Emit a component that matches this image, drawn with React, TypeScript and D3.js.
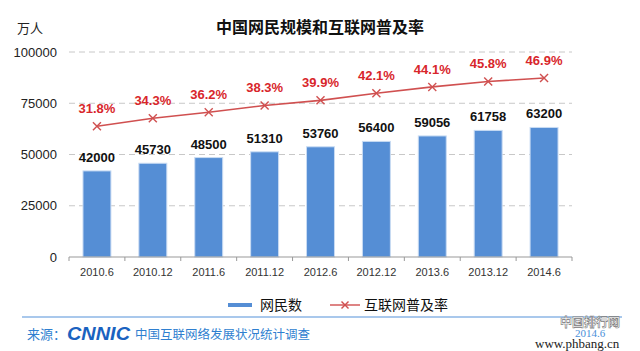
import { useMemo } from "react";
import * as d3 from "d3";

const periods = ["2010.6", "2010.12", "2011.6", "2011.12", "2012.6", "2012.12", "2013.6", "2013.12", "2014.6"];
const netizens = [42000, 45730, 48500, 51310, 53760, 56400, 59056, 61758, 63200];
const penetration = [31.8, 34.3, 36.2, 38.3, 39.9, 42.1, 44.1, 45.8, 46.9];
const yTicks = [0, 25000, 50000, 75000, 100000];

const WIDTH = 640;
const HEIGHT = 351;
const CJK = "'Noto Sans CJK SC', 'Liberation Sans', sans-serif";
const LATIN = "'Liberation Sans', Arial, sans-serif";
const BAR_COLOR = "#558ed5";
const LINE_COLOR = "#d05050";
const LABEL_RED = "#d8262b";
const FOOT_BLUE = "#2f7fd0";

export default function App() {
  const x = useMemo(
    () => d3.scaleBand<string>().domain(periods).range([69, 572]).paddingInner(0.5).paddingOuter(0.25),
    []
  );
  // band used for the axis ticks (category boundaries)
  const xb = useMemo(() => d3.scaleBand<string>().domain(periods).range([69, 572]), []);
  const y = useMemo(() => d3.scaleLinear().domain([0, 100000]).range([257, 52]), []);
  // hidden secondary axis for the rate line
  const y2 = useMemo(() => d3.scaleLinear().domain([-9, 55]).range([257, 52]), []);

  const cx = (p: string) => (xb(p) ?? 0) + xb.bandwidth() / 2;

  const linePath = d3
    .line<number>()
    .x((_, i) => cx(periods[i]))
    .y((d) => y2(d))(penetration);

  const cross = (px: number, py: number, s: number, key: string | number) => (
    <g key={key} stroke={LINE_COLOR} strokeWidth={1.4}>
      <line x1={px - s} y1={py - s} x2={px + s} y2={py + s} />
      <line x1={px - s} y1={py + s} x2={px + s} y2={py - s} />
    </g>
  );

  return (
    <svg
      width={WIDTH}
      height={HEIGHT}
      style={{ position: "absolute", left: 0, top: 0, background: "#fff" }}
    >
      {/* title */}
      <text x={320} y={33} textAnchor="middle" fontFamily={CJK} fontWeight="bold" fontSize={16} fill="#111">
        中国网民规模和互联网普及率
      </text>
      <text x={17} y={33} fontFamily={CJK} fontSize={13} fill="#222">
        万人
      </text>

      {/* grid + y labels */}
      {yTicks.map((t) => (
        <g key={t}>
          {t > 0 && (
            <line x1={69} x2={572} y1={y(t)} y2={y(t)} stroke="#c8c8c8" strokeDasharray="6,4" />
          )}
          <text x={57} y={y(t)} dy="0.35em" textAnchor="end" fontFamily={LATIN} fontSize={13} fill="#222">
            {t}
          </text>
        </g>
      ))}

      {/* bars */}
      {periods.map((p, i) => (
        <g key={p}>
          <rect
            x={x(p)}
            y={y(netizens[i])}
            width={x.bandwidth()}
            height={257 - y(netizens[i])}
            fill={BAR_COLOR}
            stroke="#c9dcf3"
            strokeWidth={1}
          />
          <text
            x={cx(p)}
            y={y(netizens[i]) - 9}
            textAnchor="middle"
            fontFamily={LATIN}
            fontWeight="bold"
            fontSize={13}
            fill="#111"
          >
            {netizens[i]}
          </text>
        </g>
      ))}

      {/* x axis */}
      <line x1={69} x2={572} y1={257} y2={257} stroke="#999" />
      {periods.map((p) => (
        <line key={"t" + p} x1={xb(p)} x2={xb(p)} y1={257} y2={261} stroke="#999" />
      ))}
      <line x1={572} x2={572} y1={257} y2={261} stroke="#999" />
      {periods.map((p) => (
        <text key={"l" + p} x={cx(p)} y={276} textAnchor="middle" fontFamily={LATIN} fontSize={11} fill="#333">
          {p}
        </text>
      ))}

      {/* penetration line */}
      <path d={linePath ?? ""} fill="none" stroke={LINE_COLOR} strokeWidth={1.6} />
      {penetration.map((v, i) => cross(cx(periods[i]), y2(v), 4, i))}
      {penetration.map((v, i) => (
        <text
          key={"p" + i}
          x={cx(periods[i])}
          y={y2(v) - 13}
          textAnchor="middle"
          fontFamily={LATIN}
          fontWeight="bold"
          fontSize={13}
          fill={LABEL_RED}
        >
          {v.toFixed(1)}%
        </text>
      ))}

      {/* legend */}
      <rect x={228} y={303} width={24} height={4} fill={BAR_COLOR} />
      <text x={260} y={310} fontFamily={CJK} fontSize={14} fill="#111">
        网民数
      </text>
      <line x1={330} x2={360} y1={305} y2={305} stroke={LINE_COLOR} strokeWidth={1.4} />
      {cross(345, 305, 3.5, "lg")}
      <text x={364} y={310} fontFamily={CJK} fontSize={14} fill="#111">
        互联网普及率
      </text>

      {/* footer */}
      <line x1={22} x2={622} y1={317} y2={317} stroke="#8db6e6" strokeWidth={1.5} />
      <text x={27} y={339} fontFamily={CJK} fontSize={13} fill={FOOT_BLUE}>
        来源：
      </text>
      <text
        x={67}
        y={340}
        fontFamily={LATIN}
        fontWeight="bold"
        fontStyle="italic"
        fontSize={19}
        textLength={63}
        lengthAdjust="spacingAndGlyphs"
        fill="#1a62c0"
      >
        CNNIC
      </text>
      <text x={135} y={339} fontFamily={CJK} fontSize={12.5} fill={FOOT_BLUE}>
        中国互联网络发展状况统计调查
      </text>
      <text x={560} y={327} fontFamily={CJK} fontWeight="bold" fontSize={12} fill="#fff" stroke="#777" strokeWidth={0.6}>
        中国排行网
      </text>
      <text x={575} y={337} fontFamily="'Liberation Serif', serif" fontSize={11} fill="#4a90d9">
        2014.6
      </text>
      <text x={535} y={348} fontFamily="'Liberation Serif', serif" fontSize={13} fill="#222">
        www.phbang.cn
      </text>
    </svg>
  );
}
